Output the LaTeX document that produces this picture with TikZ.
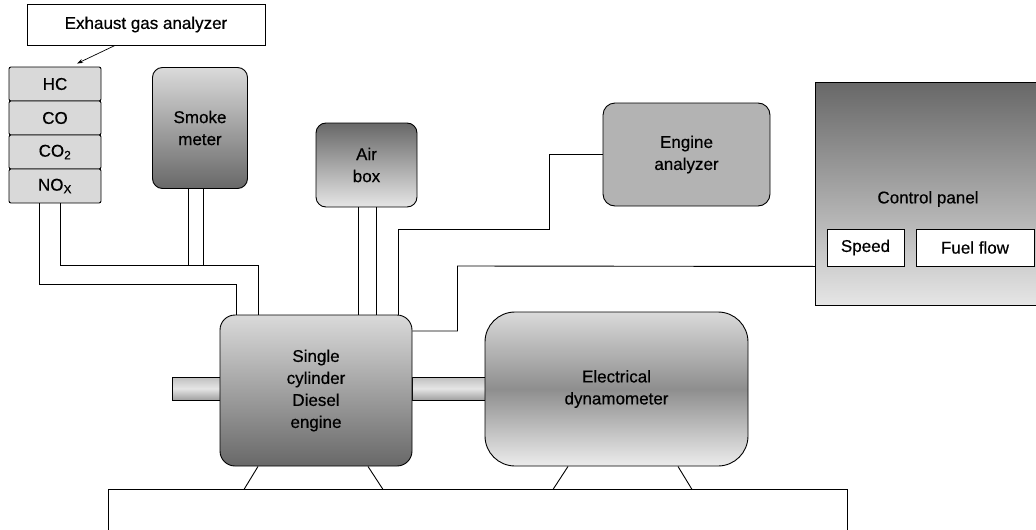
\documentclass[tikz,border=0pt]{standalone}
\usepackage{fontspec}
\setmainfont{Liberation Sans}
\newfontfamily\labfont{Liberation Sans}[FakeBold=0.5]
\usepackage{tikz}
\usetikzlibrary{arrows.meta,calc}
\definecolor{gasgray}{HTML}{D9D9D9}
\definecolor{darkgray}{HTML}{686868}
\definecolor{lightgray}{HTML}{DADADA}
\definecolor{midgray}{HTML}{8E8E8E}
\definecolor{anagray}{HTML}{B3B3B3}

\begin{document}
\begin{tikzpicture}[
  x=1pt,y=-1pt, line width=0.9pt,
  box/.style={draw=black, font=\labfont\fontsize{17}{22}\selectfont, align=center, inner sep=0pt},
  gas/.style={box, fill=gasgray, rounded corners=2pt, minimum width=92pt, minimum height=34pt},
  shaft/.style={draw=black, inner sep=0pt, minimum height=23pt, top color=gray!50, bottom color=gray!75, middle color=gray!20},
  unit/.style={box, rounded corners=10pt}
]
\useasboundingbox (0,0) rectangle (1036,530);

\node[box, minimum width=238pt, minimum height=41pt] (gasan) at (146,24.5) {Exhaust gas analyzer};
\node[gas] (hc) at (55,84) {HC};
\node[gas] (co) at (55,118) {CO};
\node[gas] (cotwo) at (55,152) {CO\textsubscript{2}};
\node[gas] (nox) at (55,186) {NO\textsubscript{X}};
\draw[-{Stealth[length=6pt,width=4pt]}, line width=0.7pt] ([xshift=-31pt]gasan.south) -- ($(hc.north)+(22,-3)$);

\node[unit, minimum width=95pt, minimum height=121pt, top color=lightgray, bottom color=darkgray] (smoke) at (200,128) {Smoke\\meter};
\node[unit, minimum width=101pt, minimum height=84pt, top color=darkgray, bottom color=gray!20] (airbox) at (366.5,165) {Air\\box};
\node[unit, rounded corners=12pt, minimum width=167pt, minimum height=103pt, fill=anagray] (enganal) at (686.5,154.5) {Engine\\analyzer};

\node[inner sep=0pt, minimum width=220pt, minimum height=222pt, top color=darkgray, bottom color=gray!20] (ctrl) at (926,194) {};
\draw (ctrl.north east) -- (ctrl.north west) -- (ctrl.south west) -- (ctrl.south east);
\node[font=\labfont\fontsize{17}{22}\selectfont] (ctrltxt) at (928,199) {Control panel};
\node[box, fill=white, minimum width=77pt, minimum height=37pt] (speed) at (865.5,247.5) {Speed};
\node[box, fill=white, minimum width=118pt, minimum height=37pt] (fuel) at (975,247.5) {Fuel flow};

\node[shaft, minimum width=48pt] (lshaft) at (196,388.5) {};
\node[shaft, minimum width=73pt] (rshaft) at (448.5,388.5) {};
\node[unit, rounded corners=15pt, minimum width=192pt, minimum height=151pt, top color=lightgray, bottom color=darkgray] (engine) at (316,390.5) {Single\\cylinder\\Diesel\\engine};
\node[unit, rounded corners=30pt, minimum width=263pt, minimum height=154pt, top color=lightgray, bottom color=gray!15, middle color=midgray] (dyno) at (616.5,389) {Electrical\\dynamometer};

% pipes to the engine
\draw ([xshift=-16pt]nox.south) |- ($([xshift=-80pt]engine.north)+(0,-30)$) -- ([xshift=-80pt]engine.north);
\draw ([xshift=5pt]nox.south) |- ($([xshift=-58pt]engine.north)+(0,-49)$) -- ([xshift=-58pt]engine.north);
\draw ([xshift=-12pt]smoke.south) -- ++(0,77.5);
\draw ([xshift=3pt]smoke.south) -- ++(0,77.5);
\draw ([xshift=-8.5pt]airbox.south) -- ([xshift=42pt]engine.north);
\draw ([xshift=9.5pt]airbox.south) -- ([xshift=60pt]engine.north);
\draw ([xshift=82pt]engine.north) |- ++(151,-85) |- (enganal.west);
\draw ([yshift=59.5pt]engine.east) -| ++(45,-65) -- (ctrl.west |- speed.south);

% test bed
\coordinate (bedl) at (108,531);
\coordinate (bedr) at (847,531);
\draw (bedl) |- ($(bedr)+(0,-42)$) -- (bedr);
\draw ([xshift=-58pt]engine.south) -- ++(-14,23);
\draw ([xshift=52pt]engine.south) -- ++(15,23);
\draw ([xshift=-48.5pt]dyno.south) -- ++(-15,23);
\draw ([xshift=61.5pt]dyno.south) -- ++(14,23);
\end{tikzpicture}
\end{document}
